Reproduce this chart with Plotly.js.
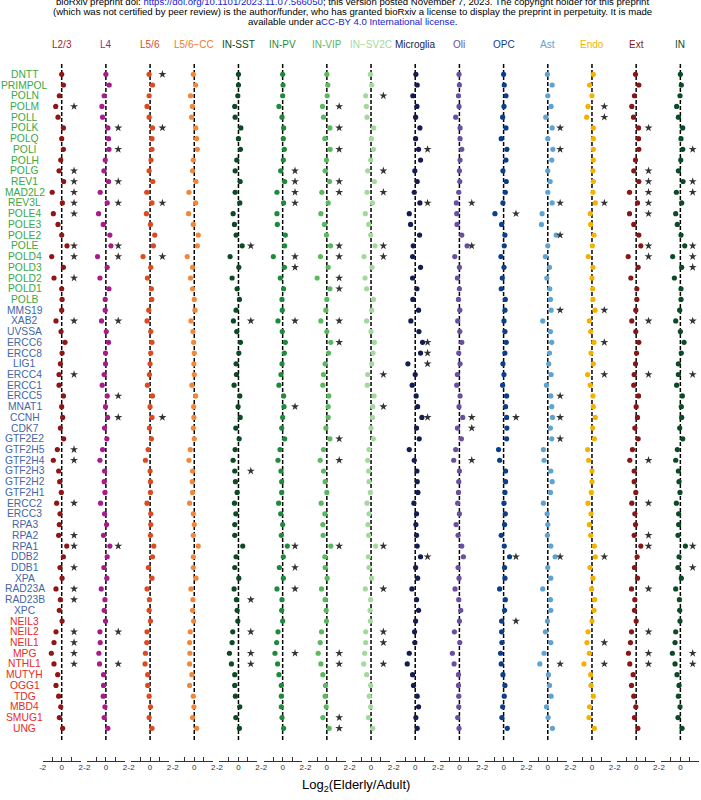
<!DOCTYPE html>
<html><head><meta charset="utf-8">
<script src="https://cdn.plot.ly/plotly-3.0.1.min.js"></script>
<style>html,body{margin:0;padding:0;background:#fff}#chart{width:701px;height:800px}</style>
</head><body><div id="chart"></div>
<script>
// ---------------- DATA ----------------
const genesPolymerase = ["DNTT","PRIMPOL","POLN","POLM","POLL","POLK","POLQ","POLI","POLH","POLG","REV1","MAD2L2","REV3L","POLE4","POLE3","POLE2","POLE","POLD4","POLD3","POLD2","POLD1","POLB"];
const genesNER = ["MMS19","XAB2","UVSSA","ERCC6","ERCC8","LIG1","ERCC4","ERCC1","ERCC5","MNAT1","CCNH","CDK7","GTF2E2","GTF2H5","GTF2H4","GTF2H3","GTF2H2","GTF2H1","ERCC2","ERCC3","RPA3","RPA2","RPA1","DDB2","DDB1","XPA","RAD23A","RAD23B","XPC"];
const genesBER = ["NEIL3","NEIL2","NEIL1","MPG","NTHL1","MUTYH","OGG1","TDG","MBD4","SMUG1","UNG"];
const genes = genesPolymerase.concat(genesNER, genesBER);

const cellTypes = ["L2/3","L4","L5/6","L5/6\u2212CC","IN-SST","IN-PV","IN-VIP","IN\u2212SV2C","Microglia","Oli","OPC","Ast","Endo","Ext","IN"];

// log2(Elderly/Adult), in gene order
const lfc_L23 = [0,0.18,-0.25,-0.63,-0.39,0.18,0,0.18,-0.1,-0.28,0.21,-1.0,0.07,-0.88,-0.39,0,0.56,-1.05,0.18,-0.81,0,0.04,0,-0.6,-0.07,0.35,0.04,-0.14,-0.28,-0.28,0.18,0,0.1,-0.14,0.21,-0.46,-0.88,-0.32,-0.21,-0.04,-0.53,-0.18,-0.25,-0.32,0.53,0.18,-0.18,0.04,-0.6,-0.14,-0.25,0.04,-0.6,-0.81,-1.09,-0.81,-0.42,-0.6,-0.32,-0.1,-0.25,0.1];
const lfc_L4 = [0,0.35,-0.18,-0.42,-0.35,0.21,0.28,0.32,-0.07,-0.21,0.28,-0.6,0.14,-0.77,-0.28,0.42,0.53,-0.88,0.14,-0.63,0.32,-0.07,-0.07,-0.46,0.04,0.28,-0.04,-0.04,-0.18,-0.39,0.14,-0.04,0.18,-0.14,0.1,-0.35,-0.63,-0.14,-0.18,-0.1,-0.56,-0.14,0.07,-0.25,0.42,0.14,-0.21,0.1,-0.49,-0.1,-0.18,-0.04,-0.63,-0.6,-0.74,-0.67,-0.25,-0.25,-0.28,-0.1,-0.18,0.21];
const lfc_L56 = [-0.1,0.25,-0.1,-0.32,-0.1,0.25,0.2,0.2,0.1,-0.1,0.28,-0.35,0.2,-0.39,0.04,0.49,0.35,-0.74,0.07,-0.28,0.14,0.18,-0.14,-0.32,0.07,0.2,0.07,0,-0.07,-0.28,0.25,0,0.2,-0.07,0.14,-0.21,-0.49,0,0.04,0.04,-0.32,0.07,0.07,0.04,0.39,0.25,-0.18,0.2,-0.32,-0.07,-0.1,0.04,-0.32,-0.35,-0.49,-0.53,-0.25,-0.25,-0.1,0.04,-0.1,0.2];
const lfc_L56CC = [-0.1,0.14,-0.4,-0.2,-0.28,0.14,0.25,0.32,-0.1,-0.18,0.18,-0.56,0.14,-0.6,-0.1,0.42,0.32,-0.74,-0.18,-0.39,-0.18,0,0.07,-0.35,-0.14,-0.07,0,-0.04,0,-0.25,0.14,-0.07,-0.04,-0.1,0,-0.42,-0.56,-0.18,-0.21,-0.18,-0.49,-0.1,0,-0.1,0.42,-0.1,-0.1,0.18,-0.35,-0.14,-0.18,-0.07,-0.42,-0.49,-0.46,-0.49,-0.25,-0.49,-0.1,-0.04,-0.18,0.25];
const lfc_INSST = [0,0,-0.07,-0.39,-0.35,0.25,0,0.21,-0.18,-0.35,0.18,-0.35,0.14,-0.56,-0.42,-0.25,0.39,-0.88,0.04,-0.67,-0.14,0.1,-0.25,-0.53,-0.18,0.21,0.04,-0.25,-0.21,-0.46,0.14,-0.04,0.18,-0.28,0.07,-0.35,-0.56,-0.39,-0.32,-0.14,-0.42,-0.28,-0.39,-0.39,0.45,-0.25,-0.39,0.04,-0.46,-0.21,-0.14,-0.07,-0.6,-0.67,-0.95,-0.74,-0.39,-0.39,-0.32,0.14,-0.28,0.1];
const lfc_INPV = [0,0.04,0,-0.39,-0.07,0.1,0.07,0.18,0.07,-0.21,0.21,-0.6,0.1,-0.6,-0.56,0.28,0.21,-0.98,0.18,-0.25,0.1,-0.07,-0.04,-0.49,-0.04,0.28,0.18,-0.07,-0.18,-0.39,0.1,0.14,0,-0.1,0.21,-0.28,-0.49,-0.18,-0.1,-0.1,-0.42,-0.21,0,-0.14,0.49,0.07,-0.35,0.07,-0.6,-0.07,-0.1,0,-0.49,-0.63,-0.81,-0.53,-0.39,-0.14,-0.14,-0.14,-0.07,0.1];
const lfc_INVIP = [0,0.1,0.04,-0.46,-0.35,0.32,-0.21,0.35,-0.04,-0.18,0.28,-0.53,0.14,-0.63,-0.25,-0.04,0.39,-0.67,0.14,-1.02,0.32,0,-0.1,-0.63,0,0.42,0.18,-0.18,-0.35,-0.42,0.21,0.14,0.14,-0.1,0.32,-0.35,-0.7,-0.35,-0.18,0,-0.6,-0.21,-0.42,-0.39,0.42,-0.21,-0.18,0.04,-0.56,-0.18,-0.07,-0.04,-0.56,-0.7,-0.91,-0.63,-0.42,-0.14,-0.18,-0.07,-0.42,0.25];
const lfc_INSV2C = [-0.07,0.07,-0.56,-0.49,-0.42,0.28,0.04,0.25,-0.04,-0.35,0.35,-0.42,0.14,-0.6,-0.25,-0.04,0.42,-0.74,0.1,-0.63,-0.46,0.25,0.07,-0.46,0,0.35,0.21,0.07,-0.35,-0.39,0.32,0.18,0.14,0,0.25,-0.21,-0.35,-0.25,-0.21,-0.07,-0.42,-0.21,-0.32,-0.25,0.49,-0.28,-0.21,0.07,-0.6,-0.04,-0.1,-0.07,-0.56,-0.56,-0.67,-0.77,-0.46,-0.04,-0.18,-0.04,-0.28,0.18];
const lfc_Microglia = [0.07,0.21,-0.25,0.18,0.04,0.49,0.04,0.35,0.56,-0.04,0.21,-0.1,0.49,-0.63,-0.49,0.46,-0.21,-0.28,0.56,-0.28,0.18,-0.25,0.35,-0.46,0.39,0.77,0.56,-0.77,0,-0.32,0.1,0.25,0.7,0.14,0.42,-0.63,-0.1,0.18,0.21,0.28,-0.14,0.14,0.07,0.14,0.21,0.56,0.04,0.25,-0.35,0.14,0.35,0.04,-0.07,-0.04,-0.63,-0.84,-0.28,-0.18,0.21,0.35,0.07,0.21];
const lfc_Oli = [-0.04,0,-0.1,-0.04,-0.39,0.07,0.07,0.25,0.07,0,0.04,-0.07,-0.32,-0.28,-0.25,0.25,0.81,-0.49,0,-0.21,0,-0.1,0.04,-0.18,0.04,0.25,-0.07,0.07,-0.21,-0.28,0.07,-0.04,0.35,-0.21,0.21,-0.39,-0.6,0,-0.07,-0.1,-0.18,0,-0.35,-0.14,0.25,0.42,-0.14,-0.04,-0.46,-0.07,0.14,0,-0.53,0.04,-0.74,-0.56,-0.1,-0.1,-0.07,-0.07,-0.18,-0.04];
const lfc_OPC = [0,0.07,0.25,0.04,-0.1,0.25,-0.25,0.35,0.25,-0.07,0.28,0.18,-0.07,-0.91,-0.21,0.14,0.07,-0.28,0.04,-0.14,-0.25,0.18,0.14,0.04,0.14,0.28,0.14,-0.07,0.04,-0.1,0.32,0.21,0.32,0.35,0.32,-0.53,-0.42,0.21,0.21,0.14,0.04,0.18,0.1,-0.25,0.07,0.63,0.1,0.14,-0.42,0.18,0.1,-0.21,-0.21,-0.18,-0.32,-0.25,-0.07,0.14,0.07,-0.1,-0.18,0.39];
const lfc_Ast = [-0.04,0.46,0,0.35,-0.21,0.46,0,0.53,0.42,0,0.25,0,0.46,-0.6,-0.67,0.88,0,-0.25,0.18,-0.1,0.21,0.28,0.35,-0.53,0.28,0.42,0.18,0.1,0.35,-0.14,0.32,0.42,0.49,0.28,0.42,-0.46,-0.39,0.32,0.46,0.28,-0.46,-0.07,0,-0.04,0.32,0.77,0,0.32,-0.53,0.28,0.32,-0.04,-0.25,0.32,-0.39,-0.84,0.07,0.18,0.35,-0.14,0.04,0.49];
const lfc_Endo = [0.14,-0.25,0,-0.42,-0.56,0.14,0.14,0.14,0.14,0.1,0.14,0.1,0.35,-0.18,-0.14,0.21,0.04,-0.39,0.1,0,0.07,0.1,0.32,-0.28,-0.14,0.21,-0.1,0.14,-0.46,-0.18,0.1,0.14,0.35,0.07,0.25,-0.46,-0.35,0,0,-0.07,-0.42,-0.1,-0.28,-0.14,0.25,0.35,-0.21,0.1,-0.04,0.28,0.21,0,-0.42,-0.53,-0.28,-0.84,-0.14,-0.1,0.14,-0.25,-0.32,0.25];
const lfc_Ext = [-0.07,0.28,-0.18,-0.46,-0.28,0.25,0.25,0.28,-0.07,-0.25,0.28,-0.7,0.14,-0.7,-0.25,0.28,0.49,-0.84,0.21,-0.56,0.07,0.07,-0.04,-0.46,-0.04,0.28,0.04,-0.07,-0.21,-0.25,0.25,0,0.14,-0.14,0.21,-0.39,-0.67,-0.21,-0.21,-0.04,-0.46,-0.14,-0.07,-0.21,0.49,0.1,-0.18,0.14,-0.49,-0.14,-0.18,0,-0.49,-0.6,-0.81,-0.67,-0.32,-0.49,-0.25,-0.04,-0.18,0.18];
const lfc_IN = [0,0.1,-0.04,-0.39,-0.21,0.25,0.07,0.25,0.04,-0.21,0.28,-0.42,0.14,-0.49,-0.32,0.07,0.46,-0.81,0.14,-0.63,0.07,0.07,-0.07,-0.49,0,0.39,0.1,-0.21,-0.21,-0.39,0.21,0.1,0.14,-0.07,0.25,-0.32,-0.49,-0.21,-0.14,-0.04,-0.42,-0.18,-0.18,-0.25,0.53,-0.14,-0.25,0.1,-0.49,-0.1,-0.07,-0.04,-0.49,-0.56,-0.84,-0.56,-0.35,-0.14,-0.21,-0.04,-0.25,0.18];

// significant genes (marked with a star)
const sig_L23 = ["POLM","POLG","REV1","MAD2L2","REV3L","POLE4","POLE","POLD4","POLD2","XAB2","ERCC4","GTF2H5","GTF2H4","ERCC2","RPA2","RPA1","DDB1","RAD23A","RAD23B","NEIL2","NEIL1","MPG","NTHL1"];
const sig_L4 = ["POLK","POLI","REV1","REV3L","POLE","POLD4","XAB2","ERCC5","CCNH","RPA1","NEIL2","NTHL1"];
const sig_L56 = ["DNTT","POLK","REV3L","POLD4","CCNH"];
const sig_L56CC = [];
const sig_INSST = ["POLE","XAB2","GTF2H3","RAD23B","NEIL2","MPG","NTHL1"];
const sig_INPV = ["POLG","REV1","MAD2L2","REV3L","POLD4","POLD3","XAB2","MNAT1","RPA1","DDB1","RAD23A","MPG"];
const sig_INVIP = ["POLM","POLK","POLI","REV1","MAD2L2","POLE","POLD4","POLD2","POLD1","XAB2","ERCC6","GTF2E2","GTF2H4","RPA1","MPG","NTHL1","SMUG1","UNG"];
const sig_INSV2C = ["POLN","POLG","MAD2L2","POLE","POLD4","ERCC4","MNAT1","RPA1","RAD23A","NEIL2","NEIL1","NTHL1"];
const sig_Microglia = ["POLI","REV3L","ERCC6","ERCC8","LIG1","CCNH","DDB2"];
const sig_Oli = ["REV3L","POLE","CCNH","CDK7","GTF2H4"];
const sig_OPC = ["POLE4","CCNH","DDB2","NEIL3"];
const sig_Ast = ["POLK","POLI","REV3L","POLE2","MMS19","ERCC5","CCNH","GTF2E2","DDB2","NTHL1"];
const sig_Endo = ["POLM","POLL","REV3L","MMS19","ERCC6","ERCC4","DDB2","NEIL1","NTHL1"];
const sig_Ext = ["POLK","POLG","REV1","MAD2L2","REV3L","POLE4","POLE","POLD4","XAB2","ERCC4","GTF2H4","ERCC2","RPA2","RPA1","RAD23A","NEIL2","MPG","NTHL1"];
const sig_IN = ["POLI","REV1","MAD2L2","POLE","POLD4","POLD3","XAB2","ERCC4","RPA1","DDB1","MPG","NTHL1"];

// ---------------- STYLE ----------------
const lfcByCell = [lfc_L23,lfc_L4,lfc_L56,lfc_L56CC,lfc_INSST,lfc_INPV,lfc_INVIP,lfc_INSV2C,lfc_Microglia,lfc_Oli,lfc_OPC,lfc_Ast,lfc_Endo,lfc_Ext,lfc_IN];
const sigByCell = [sig_L23,sig_L4,sig_L56,sig_L56CC,sig_INSST,sig_INPV,sig_INVIP,sig_INSV2C,sig_Microglia,sig_Oli,sig_OPC,sig_Ast,sig_Endo,sig_Ext,sig_IN];
const cellColors = ["#8e1616","#a51c8a","#dc4a22","#f0873a","#0b4a22","#1f8a3c","#5cb85f","#a3d99c","#141d52","#6a4e9f","#0c3e8a","#5ea3d1","#f4b200","#861717","#0b4a26"];
const stripColors = ["#a52424","#a51c8a","#dc4a22","#ee7a2a","#0b4a22","#1f8a3c","#5cb85f","#a3d99c","#141d52","#6a4e9f","#0c3e8a","#5ea3d1","#f4b200","#861717","#0b4a26"];
const groupColor = {pol:"#3ba845", ner:"#4466aa", ber:"#e52b27"};
const FONT = "Liberation Sans, Arial, Helvetica, sans-serif";
const STAR_X = 1.3;

const W = 701, H = 800;
const PANEL0 = 61.7, PANEL_STEP = 44.19, HALF = 19;   // pixels
const Y_TOP = 64, Y_BOT = 761, ROW0 = 74.3, ROW_STEP = 654/61, VLINE_BOT = 740;
const px = v => v / W, py = v => 1 - v / H;

const traces = [];
const layout = {
  width: W, height: H, margin: {l:0, r:0, t:0, b:0},
  paper_bgcolor: "#fff", plot_bgcolor: "rgba(0,0,0,0)",
  showlegend: false, font: {family: FONT},
  shapes: [], annotations: []
};

layout.yaxis = {
  domain: [py(Y_BOT), py(Y_TOP)], type: "category",
  categoryorder: "array", categoryarray: genes,
  range: [(Y_BOT - ROW0) / ROW_STEP, (Y_TOP - ROW0) / ROW_STEP], autorange: false,
  showticklabels: false, showgrid: false, zeroline: false, showline: false, ticks: "",
  anchor: "x", fixedrange: true
};

cellTypes.forEach((ct, k) => {
  const xa = k === 0 ? "x" : "x" + (k + 1);
  const axName = k === 0 ? "xaxis" : "xaxis" + (k + 1);
  const c = PANEL0 + PANEL_STEP * k;
  layout[axName] = {
    domain: [px(c - HALF), px(c + HALF)], range: [-2, 2], anchor: "y",
    tickmode: "array", tickvals: [-2, 0, 2], ticktext: ["-2", "0", "2"],
    ticks: "inside", ticklen: 4, tickwidth: 1, tickcolor: "#333",
    minor: {tickmode: "array", tickvals: [-1, 1], ticks: "inside", ticklen: 4, tickwidth: 1, tickcolor: "#333", showgrid: false},
    ticklabelstandoff: -2,
    showline: true, linecolor: "#333", linewidth: 1,
    showgrid: false, zeroline: false, fixedrange: true,
    tickfont: {size: 8, color: "#333", family: FONT}
  };
  layout.shapes.push({
    type: "line", xref: xa, yref: "y domain", x0: 0, x1: 0,
    y0: (Y_BOT - VLINE_BOT) / (Y_BOT - Y_TOP), y1: 1,
    line: {color: "#000", width: 1.5, dash: "4px,2px"}, layer: "below"
  });
  traces.push({
    type: "scatter", mode: "markers", xaxis: xa, yaxis: "y",
    x: lfcByCell[k], y: genes, cliponaxis: false, hoverinfo: "x+y",
    marker: {size: 5.2, color: cellColors[k]}
  });
  const sig = sigByCell[k];
  traces.push({
    type: "scatter", mode: "markers", xaxis: xa, yaxis: "y",
    x: sig.map(() => STAR_X), y: sig, cliponaxis: false, hoverinfo: "y",
    marker: {size: 6, symbol: "star", color: "#333"}
  });
  layout.annotations.push({
    xref: "paper", yref: "paper", x: px(c), y: py(44), xanchor: "center", yanchor: "middle",
    text: ct, showarrow: false, font: {size: 10, color: stripColors[k], family: FONT}
  });
});

genes.forEach(g => {
  const col = genesPolymerase.includes(g) ? groupColor.pol : genesNER.includes(g) ? groupColor.ner : groupColor.ber;
  layout.annotations.push({
    xref: "paper", yref: "y", x: px(24.5), y: g, xanchor: "center", yanchor: "middle",
    text: g, showarrow: false, font: {size: 10.3, color: col, family: FONT}
  });
});

layout.annotations.push({
  xref: "paper", yref: "paper", x: px(356), y: py(785), xanchor: "center", yanchor: "middle",
  text: "Log<sub>2</sub>(Elderly/Adult)", showarrow: false, font: {size: 13, color: "#000", family: FONT}
});

const LINK = "#2020d0";
const header = [
  "bioRxiv preprint doi: <span style='color:" + LINK + "'>https://doi.org/10.1101/2023.11.07.566050</span>; this version posted November 7, 2023. The copyright holder for this preprint",
  "(which was not certified by peer review) is the author/funder, who has granted bioRxiv a license to display the preprint in perpetuity. It is made",
  "available under a<span style='color:" + LINK + "'>CC-BY 4.0 International license</span>."
];
header.forEach((t, i) => {
  layout.annotations.push({
    xref: "paper", yref: "paper", x: px(352), y: py(1.5 + 10 * i), xanchor: "center", yanchor: "middle",
    text: t, showarrow: false, font: {size: 9.6, color: "#000", family: FONT}
  });
});

Plotly.newPlot("chart", traces, layout, {displayModeBar: false, staticPlot: true});
</script></body></html>
